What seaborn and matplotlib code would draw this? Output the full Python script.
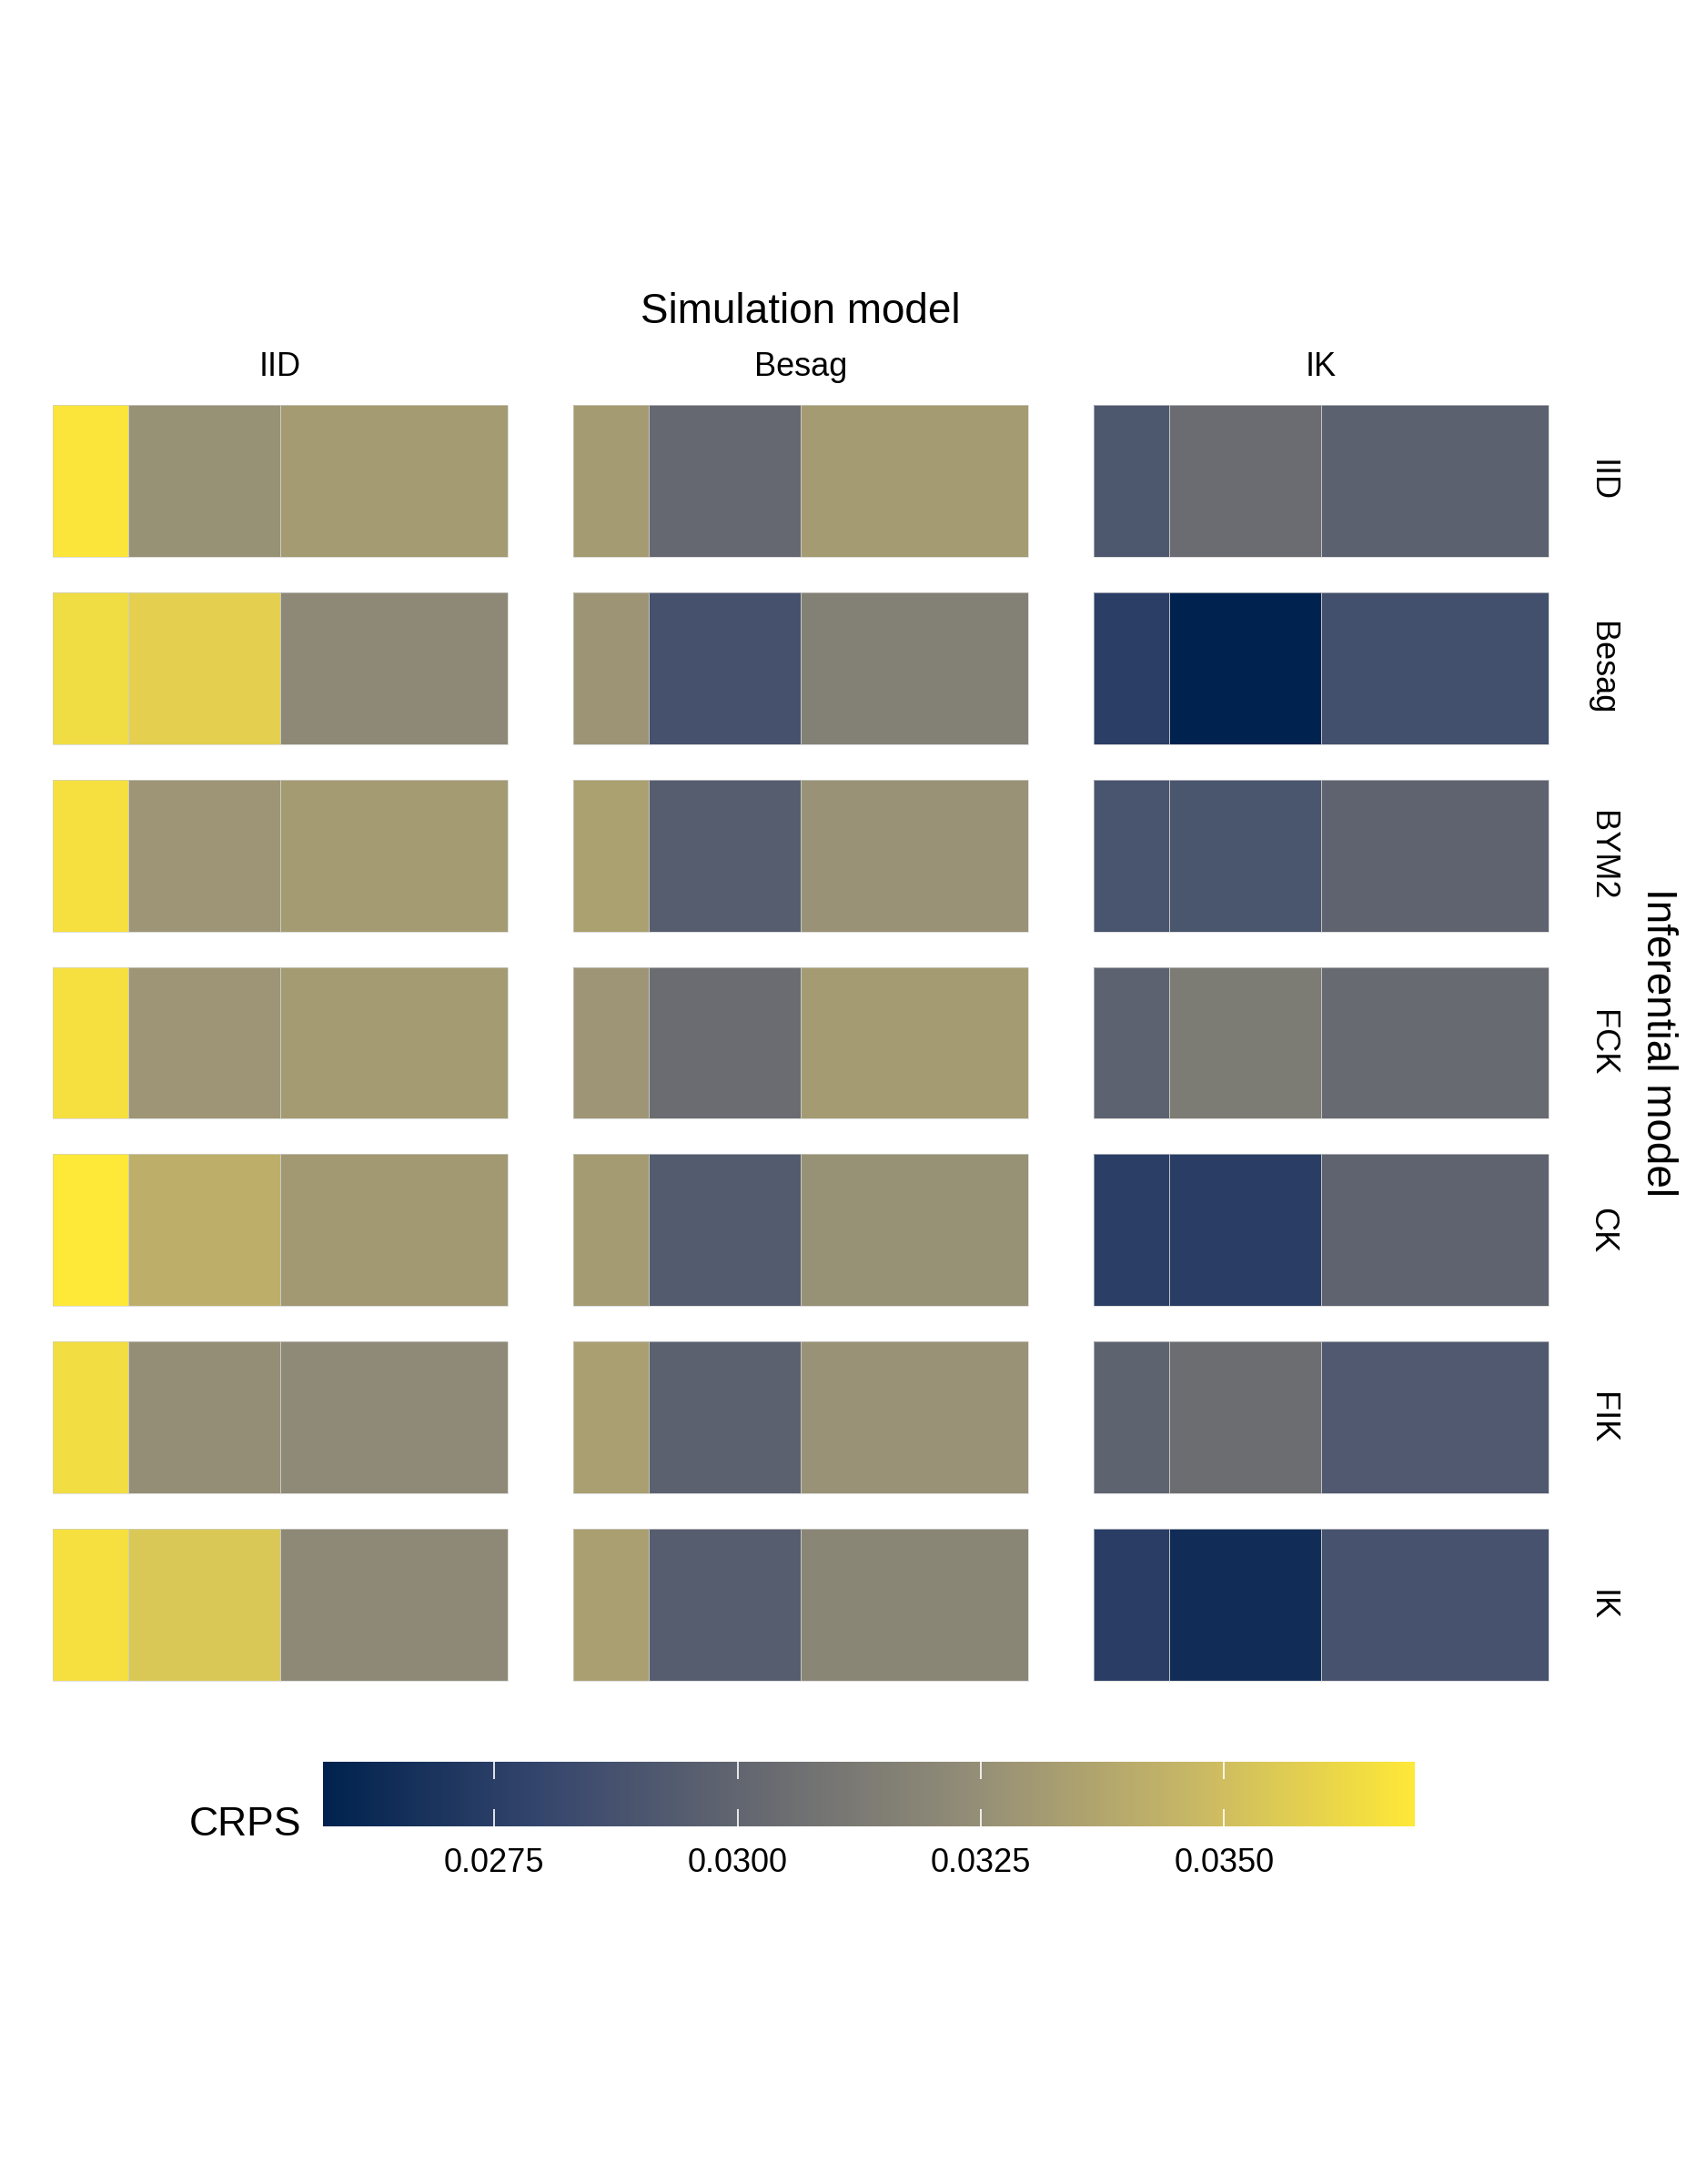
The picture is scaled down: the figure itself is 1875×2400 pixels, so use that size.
import numpy as np
import pandas as pd
import matplotlib
import matplotlib.pyplot as plt
import seaborn as sns
from matplotlib.patches import Rectangle
from matplotlib.colors import LinearSegmentedColormap

# facets and tile levels
sim_models = ["IID", "Besag", "IK"]
inf_models = ["IID", "Besag", "BYM2", "FCK", "CK", "FIK", "IK"]
tile_levels = ["1", "2", "3"]
tile_widths = [1, 2, 3]

# CRPS per simulation model: rows = inferential model, cols = tile level
crps_sim_iid = [
    [0.03680, 0.03260, 0.03317],
    [0.03636, 0.03585, 0.03215],
    [0.03659, 0.03283, 0.03317],
    [0.03659, 0.03283, 0.03311],
    [0.03696, 0.03421, 0.03304],
    [0.03645, 0.03248, 0.03220],
    [0.03659, 0.03543, 0.03215],
]
crps_sim_besag = [
    [0.03317, 0.03019, 0.03317],
    [0.03278, 0.02873, 0.03163],
    [0.03343, 0.02948, 0.03265],
    [0.03283, 0.03041, 0.03311],
    [0.03311, 0.02936, 0.03260],
    [0.03333, 0.02971, 0.03265],
    [0.03333, 0.02948, 0.03192],
]
crps_sim_ik = [
    [0.02911, 0.03041, 0.02971],
    [0.02752, 0.02574, 0.02855],
    [0.02892, 0.02897, 0.02989],
    [0.02978, 0.03129, 0.03034],
    [0.02752, 0.02747, 0.02989],
    [0.02984, 0.03046, 0.02923],
    [0.02747, 0.02646, 0.02877],
]
cbar_ticks = [0.0275, 0.0300, 0.0325, 0.0350]


def build_frame():
    rows = []
    for sim, table in zip(sim_models, [crps_sim_iid, crps_sim_besag, crps_sim_ik]):
        for inf, vals in zip(inf_models, table):
            for lev, v in zip(tile_levels, vals):
                rows.append({"sim": sim, "inf": inf, "level": lev, "crps": v})
    return pd.DataFrame(rows)


def main():
    sns.set_theme(style="white")
    plt.rcParams['font.family'] = ['Liberation Sans', 'DejaVu Sans']
    plt.rcParams['text.color'] = 'black'

    df = build_frame()
    vmin, vmax = df["crps"].min(), df["crps"].max()
    # 6-stop cividis gradient (smoother low end, like ggplot's viridis_c)
    base = plt.get_cmap("cividis")
    cmap = LinearSegmentedColormap.from_list(
        "cividis6", [base(t) for t in np.linspace(0, 1, 6)])

    fig = plt.figure(figsize=(18.75, 24), dpi=100)
    gs = fig.add_gridspec(len(inf_models), len(sim_models),
                          left=0.0309, right=0.9077, top=0.8146, bottom=0.2304,
                          wspace=0.144, hspace=0.234)

    for j, sim in enumerate(sim_models):
        for i, inf in enumerate(inf_models):
            ax = fig.add_subplot(gs[i, j])
            sub = df[(df["sim"] == sim) & (df["inf"] == inf)].set_index("level")["crps"]
            sub = sub.reindex(tile_levels).values
            # stretch each tile by its width so seaborn draws unequal tiles
            expanded = pd.DataFrame(np.repeat(sub, tile_widths)[None, :])
            sns.heatmap(expanded, ax=ax, cmap=cmap, vmin=vmin, vmax=vmax,
                        cbar=False, xticklabels=False, yticklabels=False)
            left = 0
            for w in tile_widths:
                ax.add_patch(Rectangle((left, 0), w, 1, fill=False,
                                       edgecolor='#d0d0d0', lw=0.6, alpha=0.8,
                                       clip_on=False))
                left += w
            ax.set_xlabel('')
            ax.set_ylabel('')
            if i == 0:
                ax.annotate(sim, xy=(0.5, 1), xycoords='axes fraction',
                            xytext=(0, 30), textcoords='offset points',
                            ha='center', va='center', fontsize=26)
            if j == len(sim_models) - 1:
                ax.annotate(inf, xy=(1, 0.5), xycoords='axes fraction',
                            xytext=(42, 0), textcoords='offset points',
                            ha='center', va='center', rotation=-90, fontsize=26)

    fig.text(0.4693, 0.857, "Simulation model", ha='center', va='center', fontsize=33)
    fig.text(0.9717, 0.5225, "Inferential model", ha='center', va='center',
             rotation=-90, fontsize=33)

    # colour bar
    cax = fig.add_axes([0.1893, 0.1638, 0.64, 0.0296])
    sm = matplotlib.cm.ScalarMappable(norm=matplotlib.colors.Normalize(vmin, vmax), cmap=cmap)
    cb = fig.colorbar(sm, cax=cax, orientation='horizontal')
    cb.outline.set_visible(False)
    cb.set_ticks(cbar_ticks)
    cb.ax.set_xticklabels([f"{t:.4f}" for t in cbar_ticks])
    cax.set_axisbelow(False)
    cax.tick_params(axis='x', direction='in', top=True, bottom=True,
                    color='white', length=14, width=1.2,
                    labelsize=26, labelcolor='black', pad=17)
    fig.text(0.1765, 0.1645, "CRPS", ha='right', va='center', fontsize=32)

    plt.savefig("out.png", dpi=100, facecolor='white')
    plt.close()


if __name__ == '__main__':
    main()
